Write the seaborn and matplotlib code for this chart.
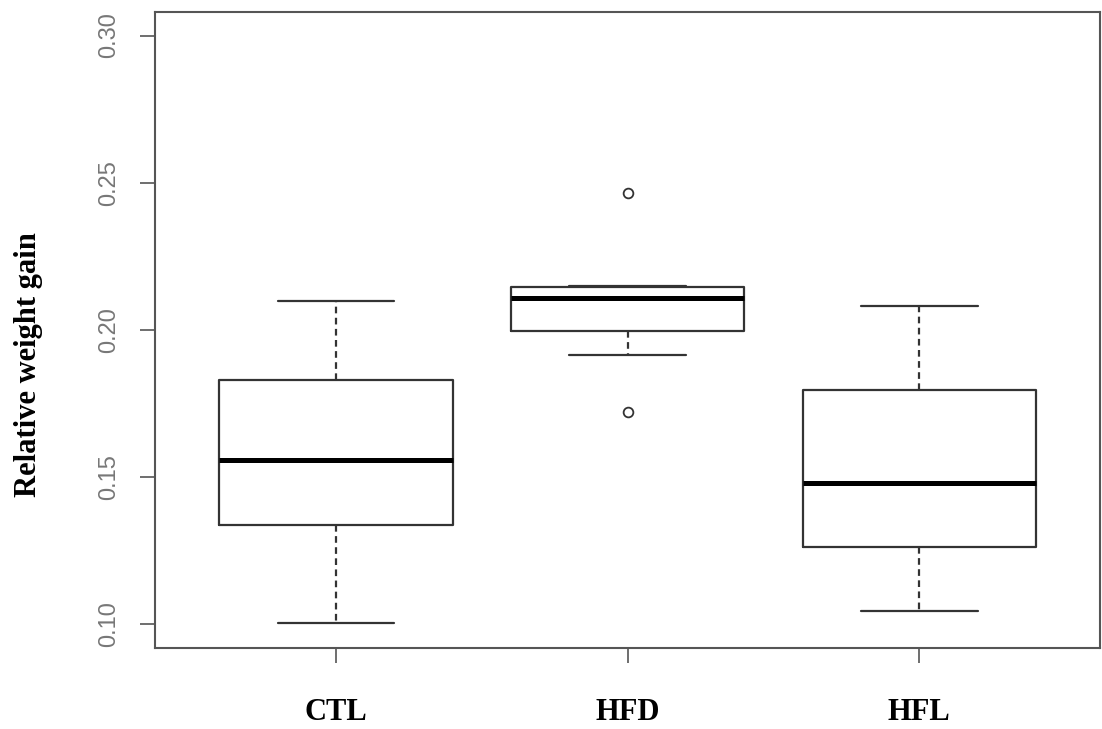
import numpy as np
import pandas as pd
import matplotlib
matplotlib.use('Agg')
import matplotlib.pyplot as plt
import seaborn as sns

# values
groups = ['CTL', 'HFD', 'HFL']
ctl = [0.1005, 0.1338, 0.1557, 0.1830, 0.2098]
hfd = [0.1722, 0.1916, 0.1997, 0.2050, 0.2110, 0.2130, 0.2147, 0.2150, 0.2464]
hfl = [0.1045, 0.1264, 0.1482, 0.1796, 0.2083]
yticks = [0.10, 0.15, 0.20, 0.25, 0.30]

df = pd.DataFrame({
    'group': ['CTL'] * len(ctl) + ['HFD'] * len(hfd) + ['HFL'] * len(hfl),
    'gain': ctl + hfd + hfl,
})

sns.set_style('white')
fig = plt.figure(figsize=(11.02, 7.29), dpi=100)
ax = fig.add_axes([155 / 1102, 1 - 648 / 729, 945 / 1102, 636 / 729])

line_col = '#333333'
sns.boxplot(data=df, x='group', y='gain', order=groups, ax=ax,
            fill=False, color=line_col, width=0.8, linewidth=1.6, whis=1.5,
            medianprops={'color': 'black', 'linewidth': 3.6},
            whiskerprops={'linestyle': (0, (3, 2)), 'color': line_col},
            capprops={'color': line_col},
            flierprops={'marker': 'o', 'markerfacecolor': 'none',
                        'markeredgecolor': line_col, 'markersize': 7,
                        'markeredgewidth': 1.3})

ax.set_xlim(-0.62, 2.62)
ax.set_ylim(0.092, 0.308)
ax.set_yticks(yticks)
ax.set_yticklabels(['%.2f' % v for v in yticks])

for s in ax.spines.values():
    s.set_visible(True)
    s.set_color('#555555')
    s.set_linewidth(1.5)

ax.tick_params(axis='y', direction='out', length=11, width=1.2, color='#555555',
               pad=14, labelsize=17, labelcolor='#777777', labelrotation=90, left=True)
ax.tick_params(axis='x', direction='out', length=11, width=1.2, color='#555555',
               pad=25, bottom=True, labelcolor='black')
for lab in ax.get_yticklabels():
    lab.set_family('Liberation Sans')
    lab.set_va('center')
for lab in ax.get_xticklabels():
    lab.set_family('Liberation Serif')
    lab.set_fontweight('bold')
    lab.set_fontsize(22)

ax.set_xlabel('')
ax.set_ylabel('Relative weight gain', family='Liberation Serif',
              fontweight='bold', fontsize=22, color='black')
ax.yaxis.set_label_coords(-0.119, 0.445)

fig.savefig('out.png', dpi=100)
